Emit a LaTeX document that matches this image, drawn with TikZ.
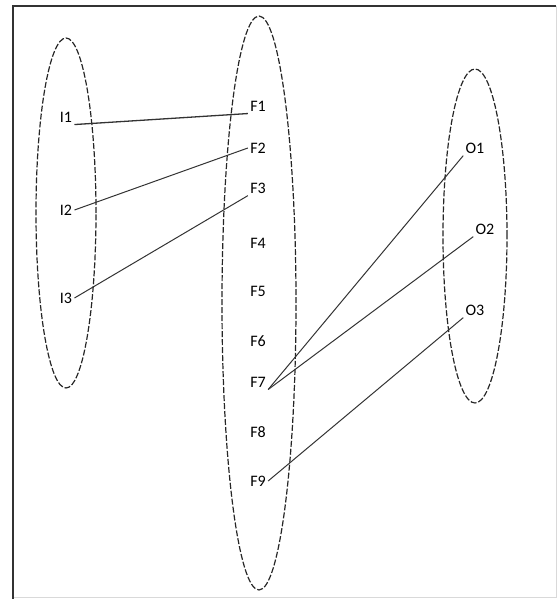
\documentclass[tikz,border=0pt]{standalone}
\usepackage{fontspec}
\setmainfont{Carlito}
\tikzset{every node/.style={font=\fontsize{8}{9}\selectfont,inner sep=1pt},
  setring/.style={draw=black!85,dash pattern=on 3pt off 1pt,line width=.6pt},
  link/.style={draw=black!80,line width=.5pt},
  frame/.style={draw=black!80,line width=.9pt}}
\begin{document}
\begin{tikzpicture}[x=0.5pt,y=-0.5pt]
\path[use as bounding box] (0,0) rectangle (559,599);
\draw[black!15,line width=.5pt] (556,6) -- (556,597) -- (13,597);
\draw[frame] (13,599) -- (13,6) -- (556,6);
% the three sets
\draw[setring] (66,213) ellipse (15pt and 87.5pt);
\draw[setring] (259,303) ellipse (18.5pt and 143.5pt);
\draw[setring] (475,236) ellipse (16pt and 83.5pt);
% members
\node (i1) at (66,117) {I1};
\node (i2) at (66,210) {I2};
\node (i3) at (66,298) {I3};
\foreach \n/\y in {1/106,2/148,3/188,4/243,5/291,6/341,7/382,8/432,9/481}
  \node (f\n) at (258,\y) {F\n};
\node (o1) at (475,148) {O1};
\node (o2) at (485,229) {O2};
\node (o3) at (475,310) {O3};
% mappings
\draw[link,line width=.65pt] (i1.south east) -- (f1.south west);
\draw[link] (i2.east) -- (f2.west);
\draw[link] (i3.east) -- (f3.south west);
\draw[link] (o1.south west) -- (f7.south east);
\draw[link] (o2.south west) -- (f7.south east);
\draw[link] (o3.south west) -- (f9.east);
\end{tikzpicture}
\end{document}
